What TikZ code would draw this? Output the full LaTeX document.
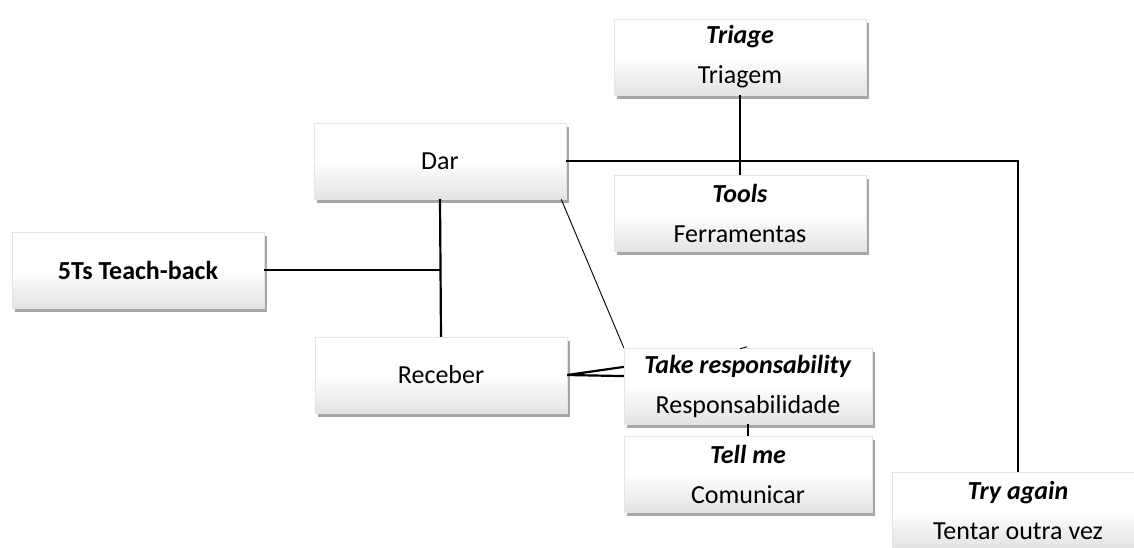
\documentclass[tikz,border=0pt]{standalone}
\usepackage{fontspec}
\setmainfont{Carlito}
\usetikzlibrary{shadows, calc}

\tikzset{
  card/.style={rectangle, minimum width=252pt, minimum height=76pt,
    draw=gray!20, line width=0.4pt,
    top color=white, bottom color=gray!22, middle color=white,
    drop shadow={shadow xshift=3pt, shadow yshift=-4pt, fill=black, opacity=0.35},
    align=center, font=\fontsize{26}{40}\selectfont},
  link/.style={line width=2.2pt},
  thinlink/.style={line width=0.9pt}
}
\newcommand{\entry}[2]{\textbf{\textit{#1}}\\#2}

\begin{document}
\begin{tikzpicture}[x=1pt, y=-1pt]
  \clip (0,0) rectangle (1134,547);
  \useasboundingbox (0,0) rectangle (1134,547);

  % Cards
  \node[card] (triage) at (740,57) {\entry{Triage}{Triagem}};
  \node[card] (tools) at (740,213) {\entry{Tools}{Ferramentas}};
  \node[card] (dar) at (440,161) {Dar};
  \node[card] (teach) at (138,270) {\textbf{5Ts Teach-back}};
  \node[card] (receber) at (441,375) {Receber};
  \node[card, minimum width=248pt] (resp) at (748,386) {\entry{Take responsability}{Responsabilidade}};
  \node[card, minimum width=248pt] (tellme) at (748,474) {\entry{Tell me}{Comunicar}};
  \node[card] (tryagain) at (1018,510) {\entry{Try again}{Tentar outra vez}};

  % Connectors
  \draw[link] (triage.south) -- (tools.north);
  \draw[link] (dar.east) -| (tryagain.north);
  \draw[link] (dar.south) -- (receber.north);
  \coordinate (junction) at (teach.east -| dar.south);
  \draw[link] (teach.east) -- (junction);
  \draw[thinlink] ($(dar.south east)+(-5,0)$) -- (resp.north west);
  \draw[link] (receber.east) -- ($(resp.north west)!0.25!(resp.south west)$);
  \draw[link] (receber.east) -- ($(resp.north west)!0.37!(resp.south west)$);
  \coordinate (stub) at ($(resp.north)+(-8,1)$);
  \draw[thinlink] (stub) -- ++(7,-2);
  \draw[link] (resp.south) -- (tellme.north);
\end{tikzpicture}
\end{document}
